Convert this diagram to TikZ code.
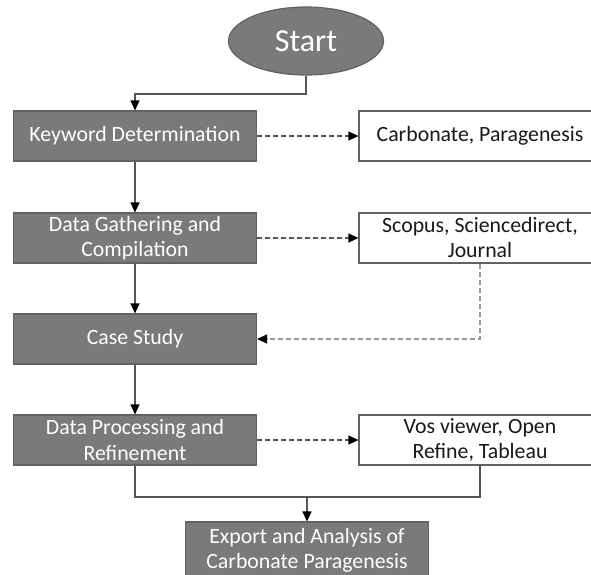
\documentclass[tikz,border=0pt]{standalone}
\usepackage{fontspec}
\setmainfont{Carlito}
\usetikzlibrary{arrows.meta,shapes.geometric}

\definecolor{boxfill}{RGB}{122,122,122}
\definecolor{boxline}{RGB}{98,98,98}
\definecolor{linkgray}{RGB}{85,85,85}
\definecolor{backgray}{RGB}{150,150,150}

\tikzset{
  procbox/.style={rectangle, draw=boxline, fill=boxfill, line width=1.2pt,
    minimum width=243pt, minimum height=50pt, align=center, text=white,
    font=\fontsize{21.8}{25}\selectfont, inner sep=0pt},
  databox/.style={rectangle, draw=boxline, fill=white, line width=1.2pt,
    minimum width=242pt, minimum height=50pt, align=center, text=black!90,
    font=\fontsize{21.8}{25}\selectfont, inner sep=0pt},
  flow/.style={draw=linkgray, line width=1.2pt, ->},
  link/.style={draw=linkgray, line width=1.2pt},
  dflow/.style={draw=linkgray, line width=1.2pt, dash pattern=on 5pt off 3pt, ->},
  bflow/.style={draw=backgray, line width=1.2pt, dash pattern=on 5pt off 3pt, ->}
}

\begin{document}
\begin{tikzpicture}[x=1pt, y=-1pt, >={Triangle[length=10pt,width=9pt,black]}]
\useasboundingbox (0,0) rectangle (591,574);
\clip (0,0) rectangle (591,574);
\fill [white] (0,0) rectangle (591,574);
% main column
\node [ellipse, fill=boxfill, draw=boxline, line width=1.2pt, minimum width=155pt,
  minimum height=68pt, text=white, font=\fontsize{32}{36}\selectfont, name=start] at (306,41) {Start};
\node [procbox, name=keyword] at (135,136) {Keyword Determination};
\node [procbox, name=gather] at (135,238) {Data Gathering and\\Compilation};
\node [procbox, name=casestudy] at (135,339) {Case Study};
\node [procbox, name=process] at (135,440) {Data Processing and\\Refinement};
\node [procbox, minimum height=56pt, name=export] at (307,550) {Export and Analysis of\\Carbonate Paragenesis};
% side boxes
\node [databox, name=carbonate] at (480,136) {Carbonate, Paragenesis};
\node [databox, name=sources] at (480,238) {Scopus, Sciencedirect,\\Journal};
\node [databox, name=tools] at (480,440) {Vos viewer, Open\\Refine, Tableau};
% connectors
\coordinate (bendstart) at (306,94);
\coordinate (joinbottom) at (307,497);
\draw [flow] (start) -- (bendstart) -| (keyword);
\draw [flow] (keyword) -- (gather);
\draw [flow] (gather) -- (casestudy);
\draw [flow] (casestudy) -- (process);
\draw [dflow] (keyword) -- (carbonate);
\draw [dflow] (gather) -- (sources);
\draw [dflow] (process) -- (tools);
\draw [bflow] (sources.south) |- (casestudy.east);
\draw [link] (process.south) |- (joinbottom) -| (tools.south);
\draw [flow] (joinbottom) -- (export);
\end{tikzpicture}
\end{document}
